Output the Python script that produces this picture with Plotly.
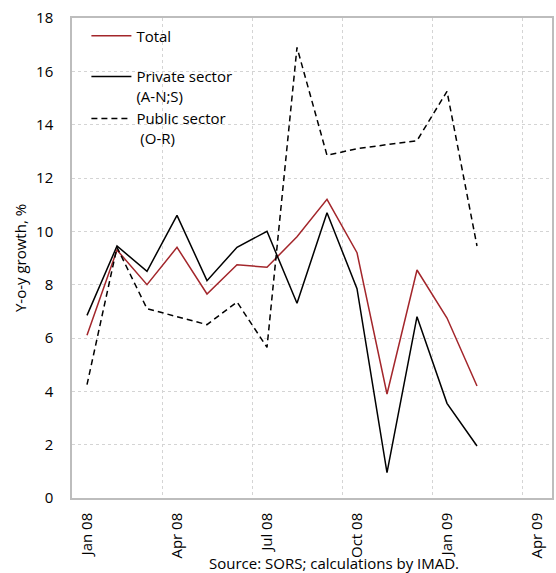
import plotly.graph_objects as go

# Monthly periods shown on the x axis (Jan 2008 - Apr 2009)
months = ["Jan 08", "Feb 08", "Mar 08", "Apr 08", "May 08", "Jun 08", "Jul 08",
          "Aug 08", "Sep 08", "Oct 08", "Nov 08", "Dec 08", "Jan 09", "Feb 09",
          "Mar 09", "Apr 09"]
tick_labels = ["Jan 08", "Apr 08", "Jul 08", "Oct 08", "Jan 09", "Apr 09"]

# Year-on-year growth, %
total = [6.1, 9.3, 8.0, 9.4, 7.65, 8.75, 8.65, 9.8, 11.2, 9.2, 3.9, 8.55, 6.75, 4.2]
private = [6.85, 9.45, 8.5, 10.6, 8.15, 9.4, 10.0, 7.3, 10.7, 7.85, 0.95, 6.8, 3.55, 1.95]
public = [4.25, 9.4, 7.1, 6.8, 6.5, 7.35, 5.65, 16.9, 12.85, 13.1, 13.25, 13.4, 15.25, 9.45]

x_all = list(range(len(months)))
x = x_all[:len(total)]
tick_pos = [months.index(t) for t in tick_labels]
boundaries = [p - 0.5 for p in tick_pos[1:]]

FONT = "Open Sans"

fig = go.Figure()
fig.add_trace(go.Scatter(x=x, y=total, mode="lines", name="Total",
                         legend="legend",
                         line=dict(color="#A3262B", width=1.5)))
fig.add_trace(go.Scatter(x=x, y=private, mode="lines",
                         name="Private sector<br>(A-N;S)", legend="legend2",
                         line=dict(color="#000000", width=1.5)))
fig.add_trace(go.Scatter(x=x, y=public, mode="lines",
                         name="Public sector<br> (O-R)", legend="legend2",
                         line=dict(color="#000000", width=1.5, dash="6px,4px")))

grid_col = "#d4d4d4"
legend_style = dict(xanchor="left", yanchor="top", bgcolor="rgba(0,0,0,0)",
                    font=dict(size=15), valign="top", itemwidth=40)
fig.update_layout(
    width=556, height=573,
    margin=dict(l=72, r=2, t=18, b=75),
    paper_bgcolor="white", plot_bgcolor="white",
    font=dict(family=FONT, size=15, color="#000000"),
    showlegend=True,
    legend=dict(x=0.03, y=0.997, **legend_style),
    legend2=dict(x=0.03, y=0.912, tracegroupgap=0, **legend_style),
    xaxis=dict(range=[-0.5, len(months) - 0.5],
               tickmode="array", tickvals=tick_pos, ticktext=tick_labels,
               tickangle=-90, ticks="", showgrid=False, zeroline=False,
               ticklabelstandoff=7,
               showline=True, linecolor="#bdbdbd", linewidth=1.5, mirror=True,
               minor=dict(tickmode="array", tickvals=boundaries, showgrid=True,
                          gridcolor=grid_col, griddash="dot", gridwidth=1,
                          ticks="")),
    yaxis=dict(range=[0, 18], dtick=2, ticks="", showgrid=True,
               gridcolor=grid_col, griddash="dot", gridwidth=1,
               zeroline=False, showline=True, linecolor="#bdbdbd",
               linewidth=1.5, mirror=True, ticklabelstandoff=14,
               title=dict(text="Y-o-y growth, %", standoff=6,
                          font=dict(size=15))),
    annotations=[dict(text="Source: SORS; calculations by IMAD.",
                      xref="paper", yref="paper", x=0.545, y=0,
                      xanchor="center", yanchor="bottom", yshift=-77,
                      showarrow=False, font=dict(size=15))],
)

fig.write_html("out.html")
